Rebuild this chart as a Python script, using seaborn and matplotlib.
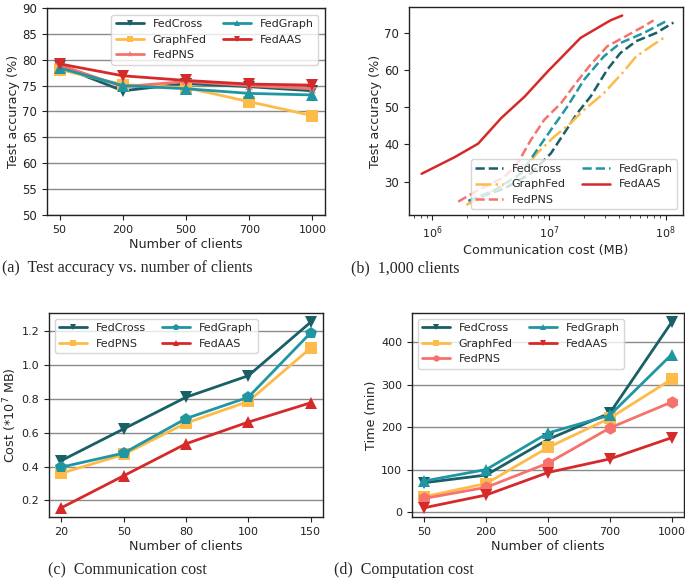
import matplotlib
matplotlib.use('Agg')
import matplotlib.pyplot as plt
import seaborn as sns
import numpy as np

sns.set_style('ticks')
plt.rcParams['font.family'] = ['DejaVu Sans']

C_CROSS = '#185f66'
C_GRAPHFED = '#fdbb4a'
C_PNS = '#f5736c'
C_GRAPH = '#2196a3'
C_AAS = '#d62a2a'

# (a) test accuracy vs number of clients
clients_a = ['50', '200', '500', '700', '1000']
acc_fedcross = [78.8, 74.0, 75.4, 74.8, 74.0]
acc_graphfed = [78.1, 75.2, 74.6, 71.9, 69.2]
acc_fedpns = [79.0, 74.8, 75.8, 75.0, 74.4]
acc_fedgraph = [78.4, 75.0, 74.4, 73.5, 73.2]
acc_fedaas = [79.2, 76.9, 76.0, 75.3, 75.1]

# (b) 1,000 clients: accuracy vs communication cost (MB)
cost_b_fedcross = [2.1e6, 2.6e6, 4.2e6, 7.0e6, 1.04e7, 1.35e7, 1.75e7, 2.28e7, 3.16e7, 4.1e7, 5.6e7, 8.3e7, 1.17e8]
accb_fedcross = [24.2, 25.9, 28.2, 32.2, 37.6, 43.0, 48.4, 52.9, 60.1, 64.6, 67.8, 70.0, 72.8]
cost_b_graphfed = [1.96e6, 3.0e6, 5.1e6, 7.9e6, 1.11e7, 1.53e7, 2.0e7, 2.96e7, 4.4e7, 5.6e7, 7.9e7, 1.0e8]
accb_graphfed = [23.7, 26.9, 30.4, 37.6, 42.1, 45.7, 49.3, 53.8, 59.7, 63.7, 66.9, 69.0]
cost_b_fedpns = [1.67e6, 2.47e6, 4.17e6, 5.4e6, 7.0e6, 9.1e6, 1.27e7, 1.75e7, 2.28e7, 3.16e7, 4.67e7, 6.5e7, 7.9e7]
accb_fedpns = [24.6, 27.7, 31.3, 35.0, 41.2, 46.6, 51.1, 57.0, 61.5, 66.4, 69.3, 71.8, 73.4]
cost_b_fedgraph = [2.03e6, 3.42e6, 5.76e6, 7.9e6, 1.04e7, 1.44e7, 2.0e7, 2.96e7, 4.1e7, 6.5e7, 1.0e8]
accb_fedgraph = [24.8, 27.7, 32.2, 38.5, 43.9, 50.2, 57.4, 63.7, 67.3, 70.0, 73.1]
cost_b_fedaas = [8.1e5, 1.56e6, 2.47e6, 3.9e6, 6.2e6, 9.8e6, 1.27e7, 1.87e7, 2.59e7, 3.37e7, 4.25e7]
accb_fedaas = [32.1, 36.6, 40.2, 47.1, 52.9, 59.7, 63.3, 68.7, 71.3, 73.4, 74.7]

# (c) communication cost (*10^7 MB)
clients_c = ['20', '50', '80', '100', '150']
comm_fedcross = [0.436, 0.623, 0.810, 0.937, 1.253]
comm_fedpns = [0.361, 0.472, 0.657, 0.785, 1.100]
comm_fedgraph = [0.397, 0.480, 0.684, 0.810, 1.190]
comm_fedaas = [0.157, 0.346, 0.535, 0.663, 0.777]

# (d) computation cost (min)
clients_d = ['50', '200', '500', '700', '1000']
time_fedcross = [69, 87, 171, 233, 447]
time_graphfed = [36, 67, 152, 221, 313]
time_fedpns = [32, 58, 115, 198, 259]
time_fedgraph = [73, 100, 186, 228, 371]
time_fedaas = [10, 40, 93, 125, 175]

W, H = 685, 586
fig = plt.figure(figsize=(W / 100, H / 100), dpi=100)


def box(l, t, r, b):
    return [l / W, 1 - b / H, (r - l) / W, (b - t) / H]


ax_a = fig.add_axes(box(47, 8, 325, 215))
ax_b = fig.add_axes(box(409, 7, 683, 215))
ax_c = fig.add_axes(box(49, 313, 323, 517))
ax_d = fig.add_axes(box(412, 313, 684, 517))

XTICK = 8
YTICK = 8.5
LAB = 9.2
LEG = 8


def style_ax(ax):
    ax.yaxis.grid(True, color='#8a8a8a', lw=1)
    ax.set_axisbelow(True)
    for s in ax.spines.values():
        s.set_color('#222222')
        s.set_linewidth(1)
    ax.tick_params(colors='#222222', length=3.5, width=0.8)
    ax.tick_params(axis='x', labelsize=XTICK)
    ax.tick_params(axis='y', labelsize=YTICK)
    ax.yaxis.labelpad = 2


def cat_series(ax, labels, series):
    pos = np.arange(len(labels))
    for name, vals, color, marker in series:
        sns.lineplot(x=pos, y=vals, ax=ax, color=color, marker=marker,
                     markersize=9, lw=2, label=name, markeredgewidth=0)
    ax.set_xticks(pos)
    ax.set_xticklabels(labels)
    ax.set_xlim(-0.2, len(labels) - 0.8)
    ax.set_xlabel('Number of clients', fontsize=LAB, labelpad=2)
    style_ax(ax)


# (a)
cat_series(ax_a, clients_a, [
    ('FedCross', acc_fedcross, C_CROSS, 'v'),
    ('GraphFed', acc_graphfed, C_GRAPHFED, 's'),
    ('FedPNS', acc_fedpns, C_PNS, '*'),
    ('FedGraph', acc_fedgraph, C_GRAPH, '^'),
    ('FedAAS', acc_fedaas, C_AAS, 'v'),
])
ax_a.set_ylim(50, 90)
ax_a.set_yticks(np.arange(50, 91, 5))
ax_a.set_ylabel('Test accuracy (%)', fontsize=LAB)
ax_a.legend(loc='upper right', ncol=2, fontsize=LEG, markerscale=0.55,
            handlelength=2.5, columnspacing=1.5, borderaxespad=0.6)

# (b)
for name, xs, ys, color, ls in [
    ('FedCross', cost_b_fedcross, accb_fedcross, C_CROSS, '--'),
    ('GraphFed', cost_b_graphfed, accb_graphfed, C_GRAPHFED, '-.'),
    ('FedPNS', cost_b_fedpns, accb_fedpns, C_PNS, '--'),
    ('FedGraph', cost_b_fedgraph, accb_fedgraph, C_GRAPH, '--'),
    ('FedAAS', cost_b_fedaas, accb_fedaas, C_AAS, '-'),
]:
    sns.lineplot(x=xs, y=ys, ax=ax_b, color=color, linestyle=ls, lw=1.8,
                 label=name, sort=False)
ax_b.set_xscale('log')
ax_b.set_xlim(10 ** 5.8, 10 ** 8.15)
ax_b.set_ylim(21, 77)
ax_b.set_yticks([30, 40, 50, 60, 70])
ax_b.set_xlabel('Communication cost (MB)', fontsize=LAB, labelpad=2)
ax_b.set_ylabel('Test accuracy (%)', fontsize=LAB)
style_ax(ax_b)
ax_b.yaxis.grid(False)
ax_b.legend(loc='lower right', ncol=2, fontsize=LEG, handlelength=2.5,
            columnspacing=1.5)

# (c)
cat_series(ax_c, clients_c, [
    ('FedCross', comm_fedcross, C_CROSS, 'v'),
    ('FedPNS', comm_fedpns, C_GRAPHFED, 's'),
    ('FedGraph', comm_fedgraph, C_GRAPH, 'p'),
    ('FedAAS', comm_fedaas, C_AAS, '^'),
])
ax_c.set_yticks([0.2, 0.4, 0.6, 0.8, 1.0, 1.2])
ax_c.set_ylabel('Cost (*10$^7$ MB)', fontsize=LAB)
ax_c.tick_params(axis='y', labelsize=XTICK)
ax_c.legend(loc='upper left', ncol=2, fontsize=LEG, markerscale=0.55,
            handlelength=2.5, columnspacing=1.5)

# (d)
cat_series(ax_d, clients_d, [
    ('FedCross', time_fedcross, C_CROSS, 'v'),
    ('GraphFed', time_graphfed, C_GRAPHFED, 's'),
    ('FedPNS', time_fedpns, C_PNS, 'h'),
    ('FedGraph', time_fedgraph, C_GRAPH, '^'),
    ('FedAAS', time_fedaas, C_AAS, 'v'),
])
ax_d.set_yticks([0, 100, 200, 300, 400])
ax_d.set_ylabel('Time (min)', fontsize=LAB)
ax_d.tick_params(axis='y', labelsize=XTICK)
ax_d.legend(loc='upper left', ncol=2, fontsize=LEG, markerscale=0.55,
            handlelength=2.5, columnspacing=1.5)

cap = dict(fontsize=11.5, family=['Liberation Serif', 'DejaVu Serif'],
           ha='center', va='center')
fig.text(127 / W, 1 - 268 / H, '(a)  Test accuracy vs. number of clients', **cap)
fig.text(405 / W, 1 - 268 / H, '(b)  1,000 clients', **cap)
fig.text(127 / W, 1 - 570 / H, '(c)  Communication cost', **cap)
fig.text(404 / W, 1 - 570 / H, '(d)  Computation cost', **cap)

fig.savefig('out.png', dpi=100)
